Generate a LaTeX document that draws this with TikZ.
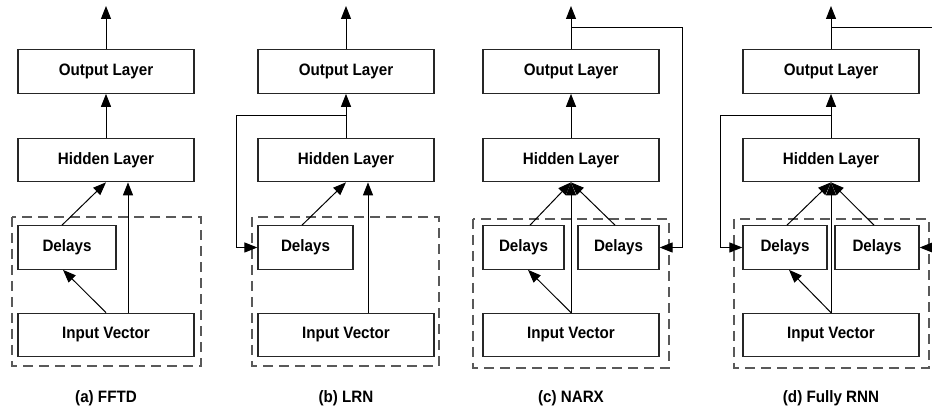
\documentclass[tikz,border=0pt]{standalone}
\usepackage{fontspec}
\newfontfamily\boxfont[FakeStretch=0.92]{Liberation Sans}
\usetikzlibrary{arrows.meta}
\begin{document}
\begin{tikzpicture}[x=1pt,y=-1pt,
  box/.style={draw=black!85, line width=1.2pt, inner sep=0pt, minimum height=43.5pt,
    font=\boxfont\bfseries\fontsize{16.5}{18}\selectfont, text=black},
  wbox/.style={box, minimum width=176pt},
  arr/.style={draw=black, line width=1pt, -{Triangle[length=13pt,width=10pt]}},
  ln/.style={draw=black, line width=1pt},
  dbox/.style={draw=black!65, line width=1.1pt, dash pattern=on 10pt off 6pt},
  captxt/.style={font=\boxfont\bfseries\fontsize{16.5}{18}\selectfont, text=black}]
\useasboundingbox (0,0) rectangle (932,411);

% ---------- (a) FFTD ----------
\node[wbox] (oa) at (106,71.5) {Output Layer};
\node[wbox] (ha) at (106,160) {Hidden Layer};
\node[box, minimum width=98pt] (da) at (67,247.5) {Delays};
\node[wbox] (ia) at (106,335) {Input Vector};
\draw[dbox] (12,217) rectangle (201,366);
\coordinate (ta) at (106,6);
\draw[arr] (oa.north) -- (ta);
\draw[arr] (ha.north) -- (oa.south);
\draw[arr] ([xshift=-5pt]da.north) -- (ha.south);
\draw[arr] ([xshift=22pt]ia.north) -- ([xshift=22pt]ha.south);
\draw[arr] (ia.north) -- ([xshift=-4pt]da.south);
\node[captxt] (la) at (106,398) {(a) FFTD};

% ---------- (b) LRN ----------
\node[wbox] (ob) at (346,71.5) {Output Layer};
\node[wbox] (hb) at (346,160) {Hidden Layer};
\node[box, minimum width=95pt] (db) at (305.5,247.5) {Delays};
\node[wbox] (ib) at (346,335) {Input Vector};
\draw[dbox] (252,217) rectangle (439,366);
\coordinate (tb) at (346,6);
\coordinate (fb) at (346,116);
\coordinate (fb1) at (236,116);
\coordinate (fb2) at (236,247.5);
\draw[arr] (ob.north) -- (tb);
\draw[arr] (hb.north) -- (ob.south);
\draw[arr] (fb) -- (fb1) -- (fb2) -- (db.west);
\draw[arr] ([xshift=-3.5pt]db.north) -- (hb.south);
\draw[arr] ([xshift=22pt]ib.north) -- ([xshift=22pt]hb.south);
\node[captxt] (lb) at (346,398) {(b) LRN};

% ---------- (c) NARX ----------
\node[wbox] (oc) at (571,71.5) {Output Layer};
\node[wbox] (hc) at (571,160) {Hidden Layer};
\node[box, minimum width=81pt] (dc1) at (523.5,247.5) {Delays};
\node[box, minimum width=81pt] (dc2) at (618.5,247.5) {Delays};
\node[wbox] (ic) at (571,335) {Input Vector};
\draw[dbox] (473,219) rectangle (669,368);
\coordinate (tc) at (571,6);
\coordinate (fc) at (571,28);
\coordinate (fc1) at (682,28);
\coordinate (fc2) at (682,247.5);
\draw[arr] (oc.north) -- (tc);
\draw[arr] (hc.north) -- (oc.south);
\draw[arr] (fc) -- (fc1) -- (fc2) -- (dc2.east);
\draw[arr] ([xshift=6.5pt]dc1.north) -- (hc.south);
\draw[arr] ([xshift=-3.5pt]dc2.north) -- (hc.south);
\draw[arr] (ic.north) -- (hc.south);
\draw[arr] (ic.north) -- ([xshift=4.5pt]dc1.south);
\node[captxt] (lc) at (571,398) {(c) NARX};

% ---------- (d) Fully RNN ----------
\node[wbox] (od) at (831,71.5) {Output Layer};
\node[wbox] (hd) at (831,160) {Hidden Layer};
\node[box, minimum width=84pt] (dd1) at (785,247.5) {Delays};
\node[box, minimum width=84pt] (dd2) at (877,247.5) {Delays};
\node[wbox] (id) at (831,335) {Input Vector};
\draw[dbox] (734,219) rectangle (929,368);
\coordinate (td) at (831,6);
\coordinate (fd) at (831,28);
\coordinate (fd1) at (932,28);
\coordinate (gd) at (932,247.5);
\coordinate (hd0) at (831,116);
\coordinate (hd1) at (720,116);
\coordinate (hd2) at (720,247.5);
\draw[arr] (od.north) -- (td);
\draw[arr] (hd.north) -- (od.south);
\draw[ln] (fd) -- (fd1);
\draw[arr] (gd) -- (dd2.east);
\draw[arr] (hd0) -- (hd1) -- (hd2) -- (dd1.west);
\draw[arr] ([xshift=2pt]dd1.north) -- (hd.south);
\draw[arr] ([xshift=-3pt]dd2.north) -- (hd.south);
\draw[arr] (id.north) -- (hd.south);
\draw[arr] (id.north) -- ([xshift=4pt]dd1.south);
\node[captxt] (ld) at (831,398) {(d) Fully RNN};
\end{tikzpicture}
\end{document}
